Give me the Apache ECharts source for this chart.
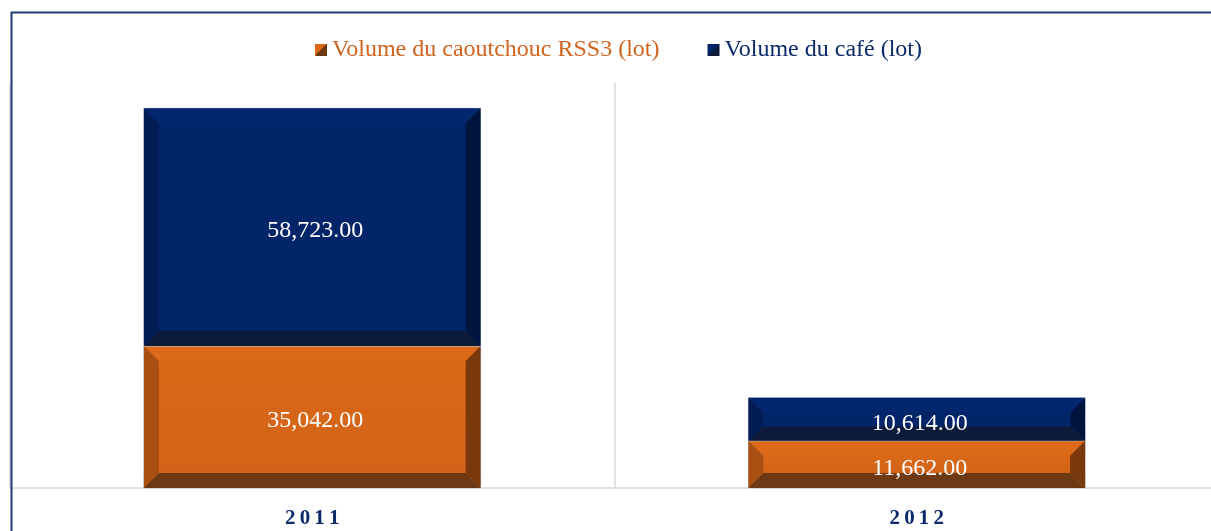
<!DOCTYPE html>
<html>
<head>
<meta charset="utf-8">
<script src="https://cdn.jsdelivr.net/npm/echarts@6/dist/echarts.min.js"></script>
<style>
  html, body { margin: 0; padding: 0; background: #fff; }
  #chart { width: 1211px; height: 531px; }
</style>
</head>
<body>
<div id="chart"></div>
<script>
var years = ['2011', '2012'];
var rubber = [35042, 11662];
var coffee = [58723, 10614];
var seriesNames = ['Volume du caoutchouc RSS3 (lot)', 'Volume du café (lot)'];

// bevel colours : face, top, left, right, bottom
var orangeStyle = { face: ['#da6817', '#d26318'], top: '#dc6a18', left: '#a94f12', right: '#7a390c', bottom: '#6d3915', text: '#d0641f' };
var blueStyle = { face: ['#022468', '#022468'], top: '#03276e', left: '#021c54', right: '#01143e', bottom: '#0d1b3a', text: '#0b2a6a' };

var chart = echarts.init(document.getElementById('chart'));

function fmt(v) {
  return v.toLocaleString('en-US', { minimumFractionDigits: 2, maximumFractionDigits: 2 });
}

function bevelItem(st) {
  return function (params, api) {
    var x = api.value(0), base = api.value(1), val = api.value(2);
    var p0 = api.coord([x, base]);
    var p1 = api.coord([x, base + val]);
    var bw = api.size([1, 0])[0] * 0.557;
    var l = p0[0] - bw / 2, r = p0[0] + bw / 2, t = p1[1], b = p0[1];
    var d = Math.min(15, (b - t) / 3);
    var poly = function (pts, c) {
      return { type: 'polygon', shape: { points: pts }, style: { fill: c } };
    };
    return {
      type: 'group',
      children: [
        { type: 'rect', shape: { x: l, y: t, width: r - l, height: b - t },
          style: { fill: st.top, stroke: 'rgba(190,198,222,0.9)', lineWidth: 1 } },
        { type: 'rect', shape: { x: l + d, y: t + d, width: r - l - 2 * d, height: b - t - 2 * d },
          style: { fill: new echarts.graphic.LinearGradient(0, 0, 0, 1, [
            { offset: 0, color: st.face[0] }, { offset: 1, color: st.face[1] }]) } },
        poly([[l, t], [r, t], [r - d, t + d], [l + d, t + d]], st.top),
        poly([[l, t], [l + d, t + d], [l + d, b - d], [l, b]], st.left),
        poly([[r, t], [r - d, t + d], [r - d, b - d], [r, b]], st.right),
        poly([[l, b], [r, b], [r - d, b - d], [l + d, b - d]], st.bottom),
        { type: 'text', x: (l + r) / 2 + 3, y: (t + b) / 2 + 4,
          style: { text: fmt(val), fill: '#ffffff', font: '24px "Liberation Serif", "Times New Roman", serif',
            align: 'center', verticalAlign: 'middle' } }
      ]
    };
  };
}

function legendIcon(st) {
  return new echarts.graphic.LinearGradient(0, 0, 1, 1, [
    { offset: 0, color: st.face[0] }, { offset: 0.5, color: st.face[0] },
    { offset: 0.5, color: st.bottom }, { offset: 1, color: st.bottom }]);
}

chart.setOption({
  animation: false,
  backgroundColor: '#ffffff',
  graphic: [{
    type: 'rect', left: 9, top: 10, shape: { width: 1400, height: 700 },
    style: { fill: 'none', stroke: '#1f3a78', lineWidth: 2 }, z: 100
  }],
  legend: {
    left: 310,
    top: 33,
    itemWidth: 12,
    itemHeight: 12,
    itemGap: 48,
    icon: 'rect',
    textStyle: { fontFamily: '"Liberation Serif", "Times New Roman", serif', fontSize: 24 },
    data: [
      { name: seriesNames[0], itemStyle: { color: legendIcon(orangeStyle) }, textStyle: { color: orangeStyle.text } },
      { name: seriesNames[1], itemStyle: { color: legendIcon(blueStyle) }, textStyle: { color: blueStyle.text } }
    ]
  },
  grid: { left: 10, top: 83, right: -8, bottom: 43, containLabel: false, outerBoundsMode: 'none' },
  xAxis: {
    type: 'category',
    data: years,
    axisLine: { lineStyle: { color: '#d9d9d9', width: 1.5 } },
    axisTick: { show: false },
    splitLine: { show: true, lineStyle: { color: '#d9d9d9', width: 1.5 } },
    axisLabel: {
      margin: 20,
      color: '#0b2a6a',
      fontWeight: 'bold',
      fontSize: 21,
      fontFamily: '"Liberation Serif", "Times New Roman", serif',
      formatter: function (v) { return v.split('').join('\u2009'); }
    }
  },
  yAxis: { type: 'value', min: 0, max: 100000, show: false, splitLine: { show: false } },
  series: [
    {
      name: seriesNames[0],
      type: 'custom',
      itemStyle: { color: orangeStyle.face[0] },
      renderItem: bevelItem(orangeStyle),
      encode: { x: 0, y: 2 },
      data: years.map(function (y, i) { return [i, 0, rubber[i]]; })
    },
    {
      name: seriesNames[1],
      type: 'custom',
      itemStyle: { color: blueStyle.face[0] },
      renderItem: bevelItem(blueStyle),
      encode: { x: 0, y: 2 },
      data: years.map(function (y, i) { return [i, rubber[i], coffee[i]]; })
    }
  ]
});
</script>
</body>
</html>
